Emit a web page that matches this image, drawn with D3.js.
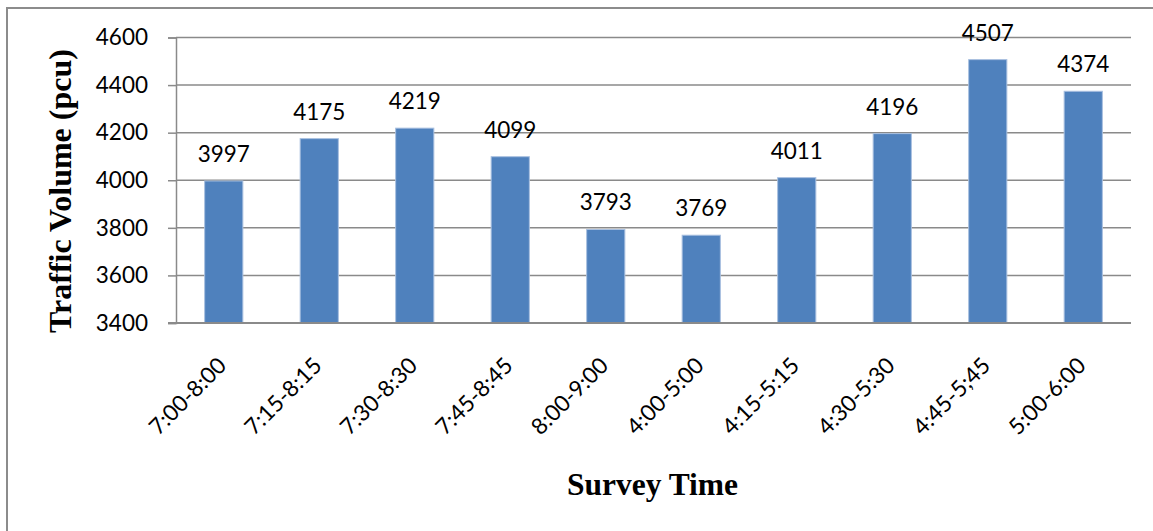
<!DOCTYPE html>
<html>
<head>
<meta charset="utf-8">
<script src="https://cdn.jsdelivr.net/npm/d3@7"></script>
<style>
  html, body { margin: 0; padding: 0; background: #fff; }
  svg { display: block; }
</style>
</head>
<body>
<svg id="chart" width="1153" height="531"></svg>
<script>
// Survey periods and observed traffic volumes (pcu)
const categories = ["7:00-8:00", "7:15-8:15", "7:30-8:30", "7:45-8:45", "8:00-9:00",
                    "4:00-5:00", "4:15-5:15", "4:30-5:30", "4:45-5;45", "5:00-6:00"];
const volumes = [3997, 4175, 4219, 4099, 3793, 3769, 4011, 4196, 4507, 4374];
const yTicks = [3400, 3600, 3800, 4000, 4200, 4400, 4600];

const svg = d3.select("#chart");
const W = 1153, H = 531;
const plot = { left: 176, right: 1131, top: 37.5, bottom: 323 };
const labelFont = "Lato, 'Open Sans', sans-serif";
const titleFont = "'Liberation Serif', 'DejaVu Serif', serif";

// outer frame
svg.append("rect")
  .attr("x", 7).attr("y", 8)
  .attr("width", W + 20).attr("height", H + 20)
  .attr("fill", "#fff")
  .attr("stroke", "#8c8c8c").attr("stroke-width", 2);

const x = d3.scaleBand()
  .domain(categories)
  .range([plot.left, plot.right])
  .paddingInner(0.6)
  .paddingOuter(0.3);

const y = d3.scaleLinear()
  .domain([3400, 4600])
  .range([plot.bottom, plot.top]);

// horizontal gridlines
svg.append("g")
  .selectAll("line")
  .data(yTicks.slice(1))
  .join("line")
  .attr("x1", plot.left).attr("x2", plot.right)
  .attr("y1", d => y(d)).attr("y2", d => y(d))
  .attr("stroke", "#8a8a8a").attr("stroke-width", 1.5);

// y axis
const yAxis = d3.axisLeft(y).tickValues(yTicks).tickSize(8).tickPadding(20).tickFormat(d3.format("d"));
const gy = svg.append("g").attr("transform", `translate(${plot.left},0)`).call(yAxis);
gy.select(".domain").attr("stroke", "#8a8a8a").attr("stroke-width", 1.5);
gy.selectAll(".tick line").attr("stroke", "#8a8a8a").attr("stroke-width", 1.5);
gy.selectAll(".tick text")
  .attr("font-family", labelFont).attr("font-size", 22.5).attr("fill", "#000");

// bars
svg.append("g")
  .selectAll("rect")
  .data(volumes)
  .join("rect")
  .attr("x", (d, i) => x(categories[i]))
  .attr("y", d => y(d))
  .attr("width", x.bandwidth())
  .attr("height", d => y(3400) - y(d))
  .attr("fill", "#4F81BD")
  .attr("stroke", "#a9c0e0").attr("stroke-width", 1);

// x axis baseline
svg.append("line")
  .attr("x1", plot.left - 8).attr("x2", plot.right)
  .attr("y1", plot.bottom).attr("y2", plot.bottom)
  .attr("stroke", "#8a8a8a").attr("stroke-width", 2);

// value labels
svg.append("g")
  .selectAll("text")
  .data(volumes)
  .join("text")
  .attr("x", (d, i) => x(categories[i]) + x.bandwidth() / 2)
  .attr("y", d => y(d) - 19)
  .attr("text-anchor", "middle")
  .attr("font-family", labelFont).attr("font-size", 22.5).attr("fill", "#000")
  .text(d => d);

// rotated category labels
svg.append("g")
  .selectAll("text")
  .data(categories)
  .join("text")
  .attr("transform", d => `translate(${x(d) + x.bandwidth() / 2 + 4},${plot.bottom + 44}) rotate(-45)`)
  .attr("text-anchor", "end")
  .attr("font-family", labelFont).attr("font-size", 22.5).attr("fill", "#000")
  .text(d => d);

// axis titles
svg.append("text")
  .attr("transform", `translate(71,191) rotate(-90)`)
  .attr("text-anchor", "middle")
  .attr("font-family", titleFont).attr("font-weight", "bold").attr("font-size", 32)
  .attr("fill", "#000")
  .text("Traffic Volume (pcu)");

svg.append("text")
  .attr("x", 652.5).attr("y", 495)
  .attr("text-anchor", "middle")
  .attr("font-family", titleFont).attr("font-weight", "bold").attr("font-size", 31.5)
  .attr("fill", "#000")
  .text("Survey Time");
</script>
</body>
</html>
